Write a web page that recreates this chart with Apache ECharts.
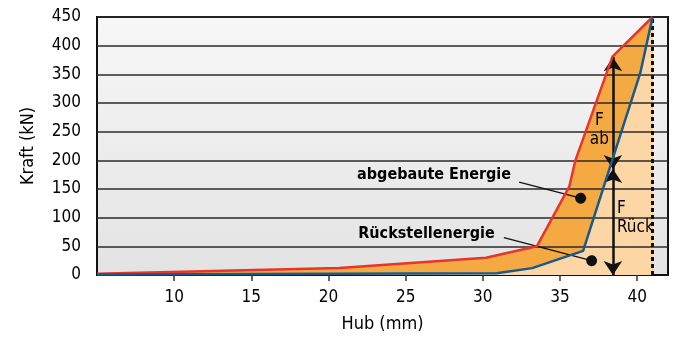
<!DOCTYPE html>
<html>
<head>
<meta charset="utf-8">
<script src="https://cdn.jsdelivr.net/npm/echarts@6/dist/echarts.min.js"></script>
<style>
  html, body { margin: 0; padding: 0; background: #fff; }
  #chart { width: 673px; height: 338px; }
</style>
</head>
<body>
<div id="chart"></div>
<script>
// Kraft-Hub-Kennlinie (Belastung oben, Entlastung unten)
const hubBelastung = [5, 20.7, 30.2, 33.5, 35.6, 36.0, 38.4, 41.0];
const kraftBelastung = [2, 12, 30, 50, 154, 200, 381, 450];
const hubEntlastung = [5, 30.9, 33.2, 36.5, 40.2, 41.0];
const kraftEntlastung = [1, 3, 12, 42, 352, 450];

const gitterKraft = [50, 100, 150, 200, 250, 300, 350, 400, 450];
const hubEnde = 41;

// Pfeile und Beschriftungen (Datenkoordinaten)
const pfeilAb = [[38.43, 380], [38.43, 185]];
const pfeilRueck = [[38.43, 185], [38.43, 0]];
const hinweisEnergie = [[32.35, 162], [36.34, 134]];
const hinweisRueck = [[31.37, 65], [37.05, 25]];
const textEnergie = [26.84, 174];
const textRueck = [26.35, 72];
const textFab = [37.55, 252];
const textFrueck = [38.69, 100];

const FONT = "'DejaVu Sans Condensed', 'Liberation Sans Narrow', 'Liberation Sans', sans-serif";

const zip = (xs, ys) => xs.map((x, i) => [x, ys[i]]);

const chart = echarts.init(document.getElementById('chart'));

chart.setOption({
  animation: false,
  textStyle: { fontFamily: FONT },
  grid: {
    left: 97, right: 5, top: 17, bottom: 58,
    show: true,
    borderColor: '#111',
    borderWidth: 2,
    backgroundColor: {
      type: 'linear', x: 0, y: 0, x2: 0, y2: 1,
      colorStops: [
        { offset: 0, color: '#f7f7f7' },
        { offset: 1, color: '#e3e3e3' }
      ]
    }
  },
  xAxis: {
    type: 'value',
    min: 5, max: 42, interval: 5,
    name: 'Hub (mm)',
    nameLocation: 'middle',
    nameGap: 40,
    nameTextStyle: { fontSize: 18, color: '#000', fontFamily: FONT },
    axisLine: { lineStyle: { color: '#111', width: 2 } },
    axisTick: { show: true, length: 6, lineStyle: { color: '#333', width: 1.5 } },
    axisLabel: {
      fontSize: 17, color: '#000', margin: 14, fontFamily: FONT,
      showMinLabel: false, showMaxLabel: false
    },
    splitLine: { show: false }
  },
  yAxis: {
    type: 'value',
    min: 0, max: 450, interval: 50,
    name: 'Kraft (kN)',
    nameLocation: 'middle',
    nameGap: 60,
    nameTextStyle: { fontSize: 18, color: '#000', fontFamily: FONT },
    axisLine: { show: true, lineStyle: { color: '#111', width: 2 } },
    axisTick: { show: false },
    axisLabel: { fontSize: 17, color: '#000', margin: 16, fontFamily: FONT },
    splitLine: { show: false }
  },
  series: [
    {
      name: 'Fläche oben',
      type: 'line',
      data: zip(hubBelastung, kraftBelastung),
      symbol: 'none',
      lineStyle: { width: 0 },
      areaStyle: { color: '#f5a942', opacity: 1 },
      z: 2
    },
    {
      name: 'Fläche unten',
      type: 'line',
      data: zip(hubEntlastung, kraftEntlastung),
      symbol: 'none',
      lineStyle: { width: 0 },
      areaStyle: { color: '#fdd6a6', opacity: 1 },
      z: 3
    },
    {
      name: 'Gitter',
      type: 'line',
      data: [],
      z: 4,
      markLine: {
        silent: true,
        symbol: ['none', 'none'],
        label: { show: false },
        lineStyle: { color: '#2a2a2a', width: 1.5, type: 'solid' },
        data: gitterKraft.map(v => ({ yAxis: v }))
      }
    },
    {
      name: 'Belastung',
      type: 'line',
      data: zip(hubBelastung, kraftBelastung),
      symbol: 'none',
      lineStyle: { color: '#e8342b', width: 2.5 },
      z: 5
    },
    {
      name: 'Entlastung',
      type: 'line',
      data: zip(hubEntlastung, kraftEntlastung),
      symbol: 'none',
      lineStyle: { color: '#185a8c', width: 2.5 },
      z: 6
    },
    {
      name: 'Anmerkungen',
      type: 'line',
      data: [],
      z: 7,
      markLine: {
        silent: true,
        label: { show: false },
        data: [
          [
            { coord: [hubEnde, 0], symbol: 'none', lineStyle: { color: '#111', width: 3, type: [4, 3] } },
            { coord: [hubEnde, 450], symbol: 'none' }
          ],
          [
            { coord: pfeilAb[0], symbol: 'arrow', symbolSize: 14, lineStyle: { color: '#111', width: 2.5, type: 'solid' } },
            { coord: pfeilAb[1], symbol: 'arrow', symbolSize: 14 }
          ],
          [
            { coord: pfeilRueck[0], symbol: 'arrow', symbolSize: 14, lineStyle: { color: '#111', width: 2.5, type: 'solid' } },
            { coord: pfeilRueck[1], symbol: 'arrow', symbolSize: 14 }
          ],
          [
            { coord: hinweisEnergie[0], symbol: 'none', lineStyle: { color: '#111', width: 1.3, type: 'solid' } },
            { coord: hinweisEnergie[1], symbol: 'circle', symbolSize: 11 }
          ],
          [
            { coord: hinweisRueck[0], symbol: 'none', lineStyle: { color: '#111', width: 1.3, type: 'solid' } },
            { coord: hinweisRueck[1], symbol: 'circle', symbolSize: 11 }
          ]
        ]
      }
    },
    {
      name: 'Texte',
      type: 'scatter',
      symbolSize: 0,
      z: 8,
      itemStyle: { opacity: 1 },
      label: {
        show: true,
        position: 'inside',
        color: '#000',
        opacity: 1,
        textBorderWidth: 0,
        fontFamily: FONT,
        formatter: p => p.name
      },
      data: [
        { name: 'abgebaute Energie', value: textEnergie, label: { fontSize: 16, fontWeight: 'bold' } },
        { name: 'Rückstellenergie', value: textRueck, label: { fontSize: 16, fontWeight: 'bold' } },
        { name: 'F\nab', value: textFab, label: { fontSize: 17, lineHeight: 19, align: 'center' } },
        { name: 'F\nRück', value: textFrueck, label: { fontSize: 17, lineHeight: 19, align: 'left' } }
      ]
    }
  ]
});
</script>
</body>
</html>
